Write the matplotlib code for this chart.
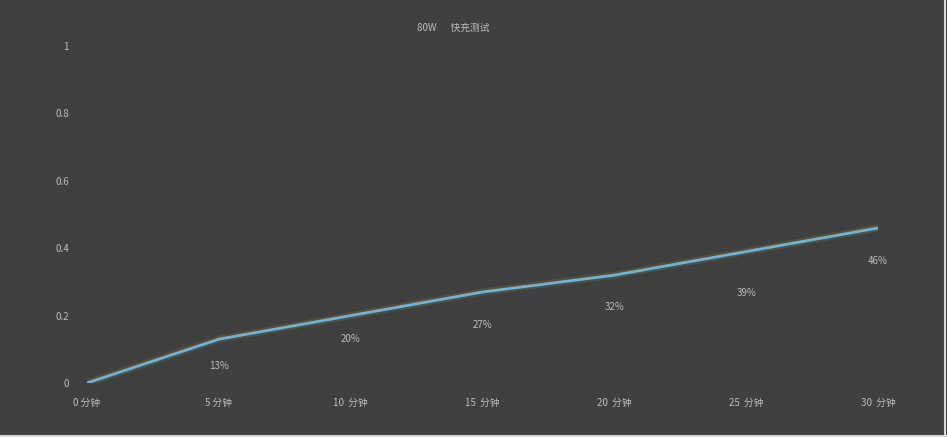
import matplotlib.pyplot as plt
import matplotlib.patheffects as pe

plt.rcParams['font.family'] = ['Noto Sans CJK SC', 'DejaVu Sans']

# data
minutes = [0, 5, 10, 15, 20, 25, 30]
charge = [0.0, 0.13, 0.20, 0.27, 0.32, 0.39, 0.46]
labels = ['', '13%', '20%', '27%', '32%', '39%', '46%']
tick_labels = ['0 分钟', '5 分钟', '10  分钟', '15  分钟', '20  分钟', '25  分钟', '30  分钟']
y_ticks = [0, 0.2, 0.4, 0.6, 0.8, 1]
y_tick_labels = ['0', '0.2', '0.4', '0.6', '0.8', '1']

# label drop below each point (points), as placed in the original
label_drop = [0, 19, 17, 24, 23, 30, 24]

bg = '#404040'
txt = '#bdbdbd'

fig = plt.figure(figsize=(9.47, 4.37), dpi=100, facecolor=bg)
ax = fig.add_axes([87 / 947, 1 - 383 / 437, (878 - 87) / 947, (383 - 46) / 437])
ax.set_facecolor(bg)

# glowing line
ax.plot(minutes, charge, color='#6fb3da', lw=2.0, solid_capstyle='round',
        path_effects=[pe.Stroke(linewidth=5, foreground='#77733a', alpha=0.35), pe.Normal()],
        zorder=3)

for x, y, s, d in zip(minutes, charge, labels, label_drop):
    if s:
        ax.annotate(s, (x, y), xytext=(0, -d), textcoords='offset points',
                    ha='center', va='center', color=txt, fontsize=7)

ax.axhline(0, color='#4a4a4a', lw=1, zorder=1)

ax.set_xlim(0, 30)
ax.set_ylim(0, 1)
ax.set_xticks(minutes)
ax.set_xticklabels(tick_labels)
ax.set_yticks(y_ticks)
ax.set_yticklabels(y_tick_labels)
ax.tick_params(axis='both', length=0, colors=txt, labelsize=7)
ax.tick_params(axis='x', pad=11)
ax.tick_params(axis='y', pad=13)
for sp in ax.spines.values():
    sp.set_visible(False)

fig.text(453 / 947, 1 - 28 / 437, '80W　  快充测试', ha='center', va='center',
         color=txt, fontsize=7)

# light frame on right and bottom edges
fig.add_artist(plt.Line2D([0, 1], [0.002, 0.002], color='#d8d8d8', lw=1.5, transform=fig.transFigure))
fig.add_artist(plt.Line2D([0.998, 0.998], [0, 1], color='#d8d8d8', lw=1.5, transform=fig.transFigure))

fig.savefig('out.png', dpi=100, facecolor=bg)
